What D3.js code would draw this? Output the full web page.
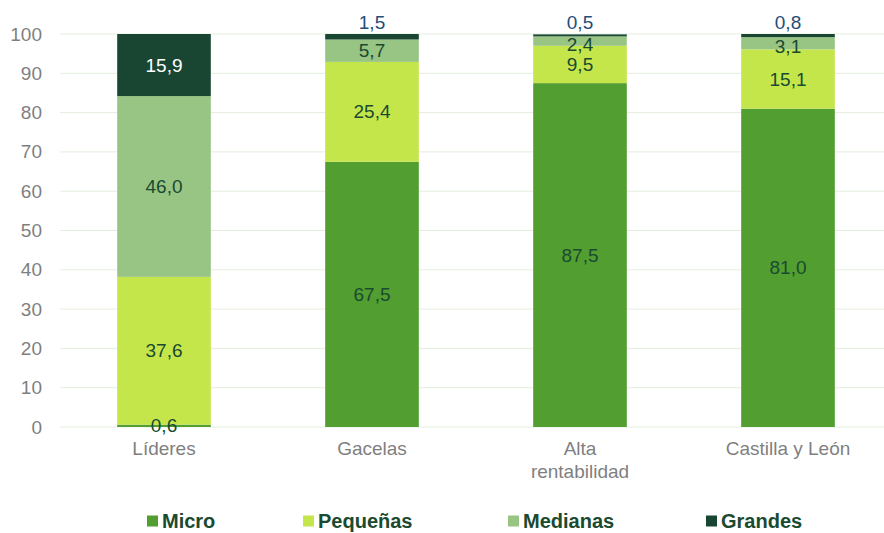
<!DOCTYPE html>
<html>
<head>
<meta charset="utf-8">
<script src="https://cdn.jsdelivr.net/npm/d3@7"></script>
<style>
  body { margin: 0; background: #fff; }
  svg { font-family: 'Liberation Sans', Arial, sans-serif; }
</style>
</head>
<body>
<svg id="chart" width="884" height="533"></svg>
<script>
const categories = [['Líderes'], ['Gacelas'], ['Alta', 'rentabilidad'], ['Castilla y León']];
const seriesNames = ['Micro', 'Pequeñas', 'Medianas', 'Grandes'];
const micro = [0.6, 67.5, 87.5, 81.0];
const pequenas = [37.6, 25.4, 9.5, 15.1];
const medianas = [46.0, 5.7, 2.4, 3.1];
const grandes = [15.9, 1.5, 0.5, 0.8];
const yTicks = [0, 10, 20, 30, 40, 50, 60, 70, 80, 90, 100];

const colors = ['#529e31', '#c4e64a', '#98c583', '#184632'];
const width = 884, height = 533;
const margin = { top: 34, right: -8, bottom: 106, left: 60 };

const svg = d3.select('#chart');

const rows = categories.map((c, i) => ({
  key: i,
  Micro: micro[i], 'Pequeñas': pequenas[i], Medianas: medianas[i], Grandes: grandes[i]
}));
const stacked = d3.stack().keys(seriesNames)(rows);

const x = d3.scaleBand()
  .domain(categories.map((c, i) => i))
  .range([margin.left, width - margin.right])
  .paddingInner(0.55)
  .paddingOuter(0.275);

const y = d3.scaleLinear()
  .domain([0, 100])
  .range([height - margin.bottom, margin.top]);

// gridlines
svg.append('g')
  .selectAll('line')
  .data(yTicks)
  .join('line')
  .attr('x1', margin.left)
  .attr('x2', width)
  .attr('y1', d => y(d))
  .attr('y2', d => y(d))
  .attr('stroke', '#e4eedd')
  .attr('stroke-width', 1);

// y axis
svg.append('g')
  .attr('transform', `translate(${margin.left - 18}, 0)`)
  .call(d3.axisLeft(y).tickValues(yTicks).tickSize(0))
  .call(g => g.select('.domain').remove())
  .selectAll('text')
  .attr('x', 0)
  .style('font-size', '19px')
  .style('font-family', "'Liberation Sans', Arial, sans-serif")
  .style('fill', '#7f7f7f');

// bars
svg.append('g')
  .selectAll('g')
  .data(stacked)
  .join('g')
  .attr('fill', (d, i) => colors[i])
  .selectAll('rect')
  .data(d => d)
  .join('rect')
  .attr('x', d => x(d.data.key))
  .attr('width', x.bandwidth())
  .attr('y', d => y(Math.min(d[1], 100)))
  .attr('height', d => y(d[0]) - y(Math.min(d[1], 100)));

// data labels
const fmt = v => v.toFixed(1).replace('.', ',');
stacked.forEach((s, si) => {
  svg.append('g')
    .selectAll('text')
    .data(s)
    .join('text')
    .attr('x', d => x(d.data.key) + x.bandwidth() / 2)
    .attr('y', d => {
      const v = d[1] - d[0];
      if (si === 3 && v < 5) return y(100) - 12;
      if (si === 2 && v < 4) return y((d[0] + d[1]) / 2) + 3;
      return y((d[0] + d[1]) / 2);
    })
    .attr('dy', '0.35em')
    .attr('text-anchor', 'middle')
    .style('font-size', '19px')
    .style('fill', d => {
      const v = d[1] - d[0];
      if (si === 3 && v < 5) return '#1f4e79';
      if (si === 3) return '#ffffff';
      return '#1a4a30';
    })
    .text(d => fmt(d[1] - d[0]));
});

// x axis labels
const xl = svg.append('g')
  .selectAll('text')
  .data(categories)
  .join('text')
  .attr('x', (d, i) => x(i) + x.bandwidth() / 2)
  .attr('y', y(0) + 28)
  .attr('text-anchor', 'middle')
  .style('font-size', '19px')
  .style('fill', '#7f7f7f');
xl.selectAll('tspan')
  .data(d => d)
  .join('tspan')
  .attr('x', function () { return this.parentNode.getAttribute('x'); })
  .attr('dy', (d, i) => i === 0 ? 0 : 23)
  .text(d => d);

// legend
const legendX = [147, 303, 508, 706];
const legend = svg.append('g')
  .selectAll('g')
  .data(seriesNames)
  .join('g')
  .attr('transform', (d, i) => `translate(${legendX[i]}, 521)`);
legend.append('rect')
  .attr('x', 0)
  .attr('y', -5.5)
  .attr('width', 11)
  .attr('height', 11)
  .attr('fill', (d, i) => colors[i]);
legend.append('text')
  .attr('x', 15)
  .attr('y', 7)
  .style('font-size', '20px')
  .style('font-weight', 'bold')
  .style('fill', '#1a4a30')
  .text(d => d);
</script>
</body>
</html>
